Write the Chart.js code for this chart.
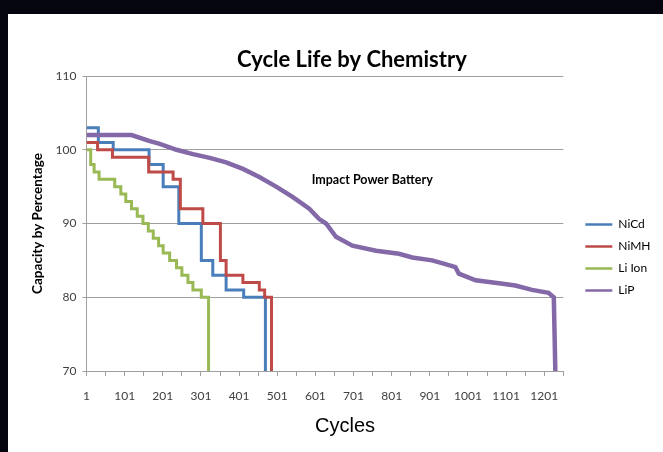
<!DOCTYPE html>
<html>
<head>
<meta charset="utf-8">
<script src="https://cdn.jsdelivr.net/npm/chart.js@4"></script>
<style>
  html, body { margin: 0; padding: 0; background: #05050f; width: 663px; height: 452px; overflow: hidden; }
  #wrap { position: absolute; left: 8px; top: 14px; width: 655px; height: 438px; background: #fff; }
</style>
</head>
<body>
<div id="wrap"><canvas id="chart-1" width="655" height="438"></canvas></div>
<script>
var chartTitle = 'Cycle Life by Chemistry';
var xAxisTitle = 'Cycles';
var yAxisTitle = 'Capacity by Percentage';
var noteText = 'Impact Power Battery';
var noteCycle = 750;
var noteValue = 95.9;

var seriesNames = ['NiCd', 'NiMH', 'Li Ion', 'LiP'];

// cycle where the capacity steps to the new value
var nicdCycles = [1, 32, 71, 165, 202, 243, 302, 332, 367, 413, 470];
var nicdValues = [103, 101, 100, 98, 95, 90, 85, 83, 81, 80, 70];

var nimhCycles = [1, 30, 69, 164, 228, 247, 306, 352, 367, 411, 454, 468, 486];
var nimhValues = [101, 100, 99, 97, 96, 92, 90, 85, 83, 82, 81, 80, 70];

var liionCycles = [1, 12, 21, 34, 75, 91, 104, 119, 134, 149, 163, 176, 190, 202, 219, 237, 251, 267, 280, 302, 321];
var liionValues = [100, 98, 97, 96, 95, 94, 93, 92, 91, 90, 89, 88, 87, 86, 85, 84, 83, 82, 81, 80, 70];

var lipCycles = [1, 119, 165, 193, 237, 280, 324, 367, 411, 454, 498, 541, 585, 611, 629, 655, 698, 760, 820, 855, 907, 942, 968, 977, 1021, 1082, 1125, 1169, 1212, 1226, 1230];
var lipValues = [102, 102, 101.2, 100.8, 100, 99.4, 98.9, 98.3, 97.4, 96.3, 95, 93.6, 92, 90.6, 90, 88.2, 87, 86.3, 85.9, 85.4, 85, 84.5, 84.1, 83.2, 82.3, 81.9, 81.6, 81, 80.6, 80, 70];

var xTickMarks = [1, 51, 101, 151, 201, 251, 301, 351, 401, 451, 501, 551, 601, 651, 701, 751, 801, 851, 901, 951, 1001, 1051, 1101, 1151, 1201, 1251];
var xTickLabels = [1, 101, 201, 301, 401, 501, 601, 701, 801, 901, 1001, 1101, 1201];
var yTicks = [70, 80, 90, 100, 110];

var colors = ['#4a7ebb', '#be4b48', '#98b954', '#8469a8'];

function toPoints(xs, ys) {
    return xs.map(function (x, i) { return { x: x, y: ys[i] }; });
}

// chart title and x axis title, placed like the Excel original
var titlePlugin = {
    id: 'plainTitle',
    afterDraw: function (chart) {
        var ctx = chart.ctx;
        ctx.save();
        ctx.fillStyle = '#000';
        ctx.textAlign = 'center';
        ctx.textBaseline = 'middle';
        ctx.font = 'bold 22px Lato';
        ctx.fillText(chartTitle, chart.width * 0.525, 46);
        ctx.font = '20px "Liberation Sans"';
        ctx.fillText(xAxisTitle, chart.width * 0.5145, chart.scales.x.bottom - 13);
        ctx.restore();
    }
};

var notePlugin = {
    id: 'note',
    afterDatasetsDraw: function (chart) {
        var ctx = chart.ctx;
        var x = chart.scales.x.getPixelForValue(noteCycle);
        var y = chart.scales.y.getPixelForValue(noteValue);
        ctx.save();
        ctx.font = 'bold 12.5px Lato';
        ctx.fillStyle = '#000';
        ctx.textAlign = 'center';
        ctx.textBaseline = 'middle';
        ctx.fillText(noteText, x, y);
        ctx.restore();
    }
};

Chart.defaults.font.family = 'Lato';

drawChart();
function drawChart() {
    var ctx = document.getElementById('chart-1');
    var allCycles = [nicdCycles, nimhCycles, liionCycles, lipCycles];
    var allValues = [nicdValues, nimhValues, liionValues, lipValues];

    var datasets = seriesNames.map(function (name, i) {
        return {
            label: name,
            data: toPoints(allCycles[i], allValues[i]),
            borderColor: colors[i],
            backgroundColor: colors[i],
            borderWidth: i === 3 ? 4.5 : 3,
            stepped: i === 3 ? false : 'before',
            tension: 0,
            pointRadius: 0,
            fill: false,
            order: 4 - i
        };
    });

    var myChart = new Chart(ctx, {
        type: 'line',
        data: { datasets: datasets },
        plugins: [titlePlugin, notePlugin],
        options: {
            responsive: false,
            animation: false,
            layout: { padding: { top: 62, right: 2.5, bottom: 13, left: 0 } },
            plugins: {
                title: { display: false },
                tooltip: { enabled: false },
                legend: {
                    position: 'right',
                    labels: {
                        usePointStyle: true,
                        pointStyle: 'line',
                        pointStyleWidth: 27,
                        padding: 10,
                        color: '#000',
                        font: { size: 12 },
                        sort: function (a, b) { return a.datasetIndex - b.datasetIndex; },
                        generateLabels: function (chart) {
                            return Chart.defaults.plugins.legend.labels.generateLabels(chart).map(function (l) {
                                l.lineWidth = 2.5;
                                l.pointStyle = 'line';
                                return l;
                            });
                        }
                    }
                }
            },
            scales: {
                x: {
                    type: 'linear',
                    min: 1,
                    max: 1251,
                    afterBuildTicks: function (axis) {
                        axis.ticks = xTickMarks.map(function (v) { return { value: v }; });
                    },
                    afterFit: function (s) { s.height = 68; },
                    ticks: {
                        autoSkip: false,
                        maxRotation: 0,
                        padding: 13,
                        color: '#404040',
                        font: { size: 12 },
                        callback: function (v) {
                            return xTickLabels.indexOf(v) >= 0 ? String(v) : '';
                        }
                    },
                    grid: { drawOnChartArea: false, drawTicks: true, tickLength: 5, color: '#a0a0a0' },
                    border: { color: '#a0a0a0' }
                },
                y: {
                    min: 70,
                    max: 110,
                    afterBuildTicks: function (axis) {
                        axis.ticks = yTicks.map(function (v) { return { value: v }; });
                    },
                    afterFit: function (s) { s.width = 78.5; },
                    ticks: { color: '#404040', font: { size: 12 }, padding: 6 },
                    grid: { color: '#a0a0a0', tickLength: 4 },
                    border: { color: '#a0a0a0' },
                    title: {
                        display: true,
                        text: yAxisTitle,
                        color: '#000',
                        font: { size: 13.5, weight: 'bold' },
                        padding: { top: 22, bottom: 0 }
                    }
                },
                y2: {
                    position: 'right',
                    display: true,
                    grid: { display: false },
                    border: { display: false },
                    ticks: { display: false },
                    afterFit: function (s) { s.width = 12; }
                }
            }
        }
    });
}
</script>
</body>
</html>
